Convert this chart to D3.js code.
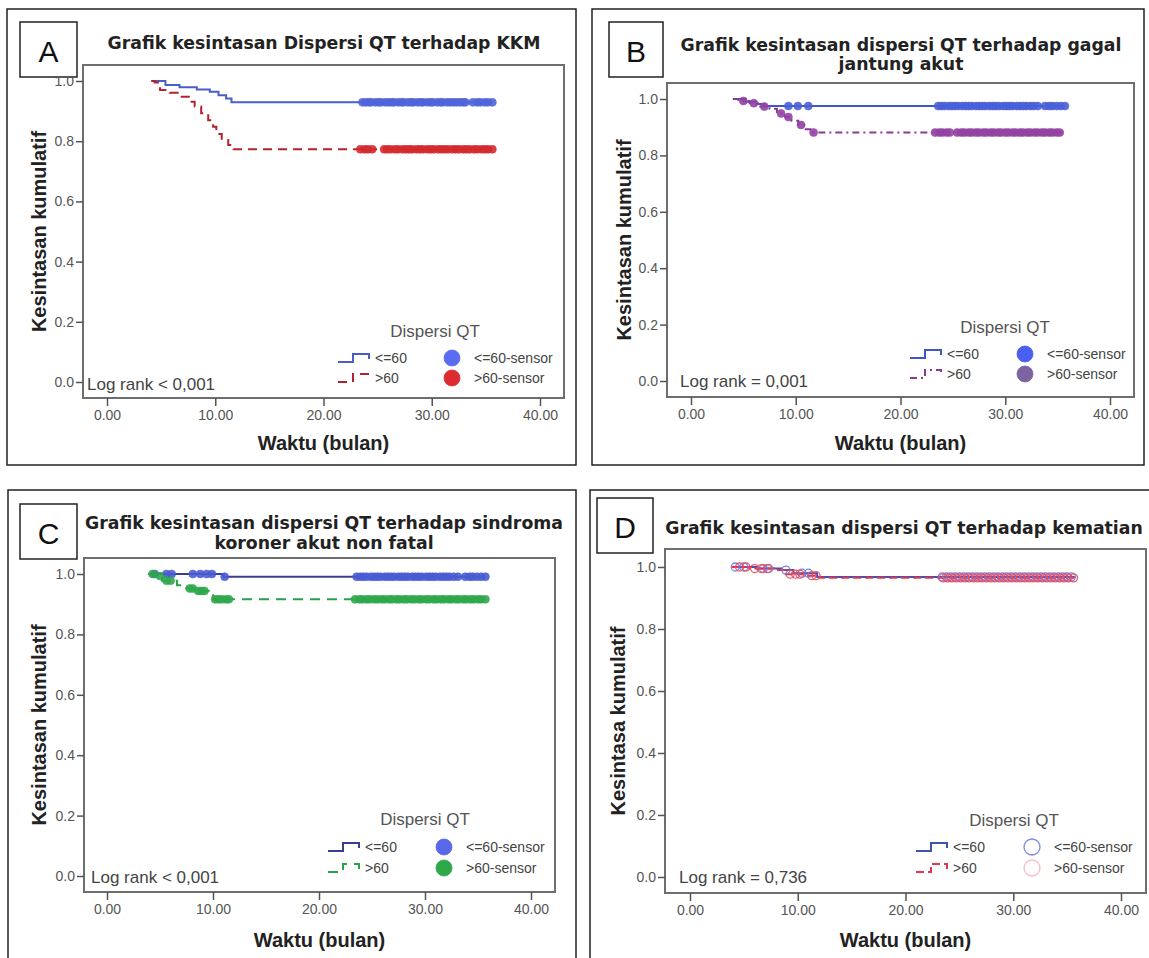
<!DOCTYPE html>
<html>
<head>
<meta charset="utf-8">
<script src="https://cdnjs.cloudflare.com/ajax/libs/d3/7.8.5/d3.min.js"></script>
<style>
    body { margin: 0; background: #fff; }
    svg { display: block; }
</style>
</head>
<body>
<svg id="chart" width="1149" height="958"></svg>
<script>
// shared axis ticks and legend texts
var xTicks = [0, 10, 20, 30, 40];
var yTicks = [0, 0.2, 0.4, 0.6, 0.8, 1.0];
var groupLabels = ["<=60", ">60"];
var censorLabels = ["<=60-sensor", ">60-sensor"];

// Panel A - KKM
var aLowTime = [4.1, 5.4, 6.7, 8.3, 9.5, 10.3, 11.0, 11.5, 35.6];
var aLowSurv = [1.0, 0.987, 0.979, 0.972, 0.964, 0.953, 0.942, 0.929, 0.929];
var aLowCens = [23.6, 23.9, 24.2, 24.4, 24.8, 25.1, 25.3, 25.7, 26.0, 26.3, 26.5, 26.9, 27.2, 27.4, 27.8, 28.1,
    28.3, 28.7, 29.0, 29.2, 29.6, 29.9, 30.1, 30.5, 30.8, 31.0, 31.4, 31.7, 32.0, 32.3, 32.6, 32.9, 33.1,
    33.8, 34.2, 34.5, 34.9, 35.2, 35.6];
var aHighTime = [4.1, 4.4, 4.9, 5.8, 6.7, 7.7, 8.1, 8.7, 9.35, 9.8, 10.1, 10.6, 11.2, 11.7, 35.6];
var aHighSurv = [1.0, 0.995, 0.970, 0.961, 0.948, 0.931, 0.915, 0.893, 0.870, 0.848, 0.824, 0.804, 0.787, 0.773, 0.773];
var aHighCens = [23.4, 23.8, 24.1, 24.5, 25.6, 25.9, 26.2, 26.6, 26.9, 27.3, 27.6, 27.9, 28.2, 28.6, 28.9, 29.2,
    29.6, 29.9, 30.2, 30.6, 30.9, 31.2, 31.5, 31.9, 32.2, 32.5, 32.9, 33.2, 33.5, 33.9, 34.2, 34.6, 34.9, 35.2, 35.6];

// Panel B - gagal jantung akut
var bLowTime = [4.0, 5.2, 6.2, 7.0, 35.7];
var bLowSurv = [1.0, 0.990, 0.982, 0.975, 0.975];
var bLowCens = [9.3, 10.2, 11.2, 23.6, 23.9, 24.2, 24.6, 24.9, 25.2, 25.5, 25.9, 26.2, 26.5, 26.8, 27.2, 27.5,
    27.8, 28.1, 28.5, 28.8, 29.1, 29.4, 29.8, 30.1, 30.4, 30.7, 31.1, 31.4, 31.7, 32.0, 32.4, 32.7, 33.1,
    33.8, 34.2, 34.5, 34.9, 35.3, 35.7];
var bHighTime = [4.0, 4.5, 5.6, 6.4, 7.5, 8.2, 9.0, 9.6, 10.25, 10.8, 11.4, 35.7];
var bHighSurv = [1.0, 0.993, 0.985, 0.973, 0.965, 0.949, 0.936, 0.923, 0.908, 0.893, 0.881, 0.881];
var bHighCens = [5.0, 6.0, 7.0, 8.6, 9.3, 10.5, 11.7, 23.3, 23.7, 24.0, 24.4, 24.7, 25.4, 25.8, 26.1, 26.5,
    26.8, 27.2, 27.5, 27.9, 28.2, 28.6, 28.9, 29.3, 29.6, 30.0, 30.3, 30.7, 31.0, 31.4, 31.7, 32.1, 32.4,
    32.8, 33.1, 33.5, 33.8, 34.2, 34.5, 34.9, 35.2];

// Panel C - sindroma koroner akut non fatal
var cLowTime = [3.9, 11.0, 35.7];
var cLowSurv = [1.0, 0.991, 0.991];
var cLowCens = [4.5, 5.6, 6.1, 8.1, 8.8, 9.4, 9.9, 11.1, 23.55, 23.9, 24.2, 24.5, 24.9, 25.2, 25.5, 25.8, 26.2,
    26.5, 26.8, 27.1, 27.5, 27.8, 28.1, 28.4, 28.8, 29.1, 29.4, 29.7, 30.1, 30.4, 30.7, 31.0, 31.4, 31.7,
    32.0, 32.3, 32.7, 33.1, 33.8, 34.2, 34.5, 34.9, 35.3, 35.7];
var cHighTime = [3.9, 4.8, 5.2, 6.6, 7.5, 8.4, 9.6, 10.0, 35.7];
var cHighSurv = [1.0, 0.993, 0.978, 0.963, 0.952, 0.944, 0.930, 0.916, 0.916];
var cHighCens = [4.3, 5.0, 5.6, 6.0, 7.8, 8.1, 8.6, 8.9, 9.2, 10.2, 10.5, 10.8, 11.2, 11.5, 23.4, 23.8, 24.1,
    24.5, 24.8, 25.2, 25.5, 25.9, 26.2, 26.6, 26.9, 27.3, 27.6, 28.0, 28.3, 28.7, 29.0, 29.4, 29.7, 30.1,
    30.4, 30.8, 31.1, 31.5, 31.8, 32.2, 32.5, 32.9, 33.2, 33.6, 33.9, 34.3, 34.6, 35.0, 35.3, 35.7];

// Panel D - kematian
var dLowTime = [3.9, 6.2, 8.5, 9.6, 11.8, 35.7];
var dLowSurv = [1.0, 0.995, 0.990, 0.980, 0.968, 0.968];
var dLowCens = [4.2, 5.0, 6.8, 7.3, 8.9, 10.4, 11.0, 23.4, 23.8, 24.2, 24.6, 25.0, 25.4, 25.8, 26.2, 26.6,
    27.0, 27.4, 27.8, 28.2, 28.6, 29.0, 29.4, 29.8, 30.2, 30.6, 31.0, 31.4, 31.8, 32.2, 32.6, 33.0, 33.4,
    33.8, 34.2, 34.6, 35.0, 35.4];
var dHighTime = [3.9, 5.5, 7.8, 8.8, 10.8, 12.0, 35.7];
var dHighSurv = [1.0, 0.995, 0.990, 0.977, 0.972, 0.965, 0.965];
var dHighCens = [4.6, 5.2, 6.0, 6.6, 7.2, 9.3, 9.8, 10.2, 11.3, 11.7, 23.5, 23.9, 24.3, 24.7, 25.1, 25.5,
    25.9, 26.3, 26.7, 27.1, 27.5, 27.9, 28.3, 28.7, 29.1, 29.5, 29.9, 30.3, 30.7, 31.1, 31.5, 31.9, 32.3,
    32.7, 33.1, 33.5, 33.9, 34.3, 34.7, 35.1, 35.6];


SurvivalChart = function (_svg, _cfg, _series) {
    this.svg = _svg;
    this.cfg = _cfg;
    this.series = _series;
    this.initVis();
}

SurvivalChart.prototype.initVis = function () {
    var vis = this;
    var c = vis.cfg;

    vis.g = vis.svg.append("g");

    // panel border
    vis.g.append("rect")
        .attr("x", c.border[0]).attr("y", c.border[1])
        .attr("width", c.border[2] - c.border[0]).attr("height", c.border[3] - c.border[1])
        .attr("fill", "none").attr("stroke", "#222").attr("stroke-width", 1.5);

    // letter box
    vis.g.append("rect")
        .attr("x", c.box[0]).attr("y", c.box[1])
        .attr("width", c.box[2] - c.box[0]).attr("height", c.box[3] - c.box[1])
        .attr("fill", "#fff").attr("stroke", "#222").attr("stroke-width", 1.5);
    vis.g.append("text")
        .attr("x", (c.box[0] + c.box[2]) / 2).attr("y", (c.box[1] + c.box[3]) / 2 + 2)
        .attr("text-anchor", "middle").attr("dominant-baseline", "central")
        .attr("font-family", "Liberation Sans, Arial, sans-serif").attr("font-size", 30)
        .attr("fill", "#111")
        .text(c.letter);

    // title (1 or 2 lines)
    c.title.forEach(function (line, i) {
        vis.g.append("text")
            .attr("x", c.titleX).attr("y", c.titleY[i])
            .attr("text-anchor", "middle").attr("dominant-baseline", "central")
            .attr("font-family", "DejaVu Sans, Verdana, sans-serif").attr("font-weight", "bold")
            .attr("font-size", 17.3).attr("fill", "#222")
            .text(line);
    });

    vis.xScale = d3.scaleLinear().domain([0, 40]).range(c.xRange);
    vis.yScale = d3.scaleLinear().domain([0, 1]).range(c.yRange);

    vis.updateVis();
}

SurvivalChart.prototype.survAt = function (s, t) {
    var v = s.surv[0];
    for (var i = 0; i < s.time.length; i++) {
        if (s.time[i] <= t) v = s.surv[i];
    }
    return v;
}

SurvivalChart.prototype.updateVis = function () {
    var vis = this;
    var c = vis.cfg;
    var f = c.frame;

    // plot frame
    vis.g.append("rect")
        .attr("x", f[0]).attr("y", f[1])
        .attr("width", f[2] - f[0]).attr("height", f[3] - f[1])
        .attr("fill", "#fff").attr("stroke", "#6e6e6e").attr("stroke-width", 2);

    // axes
    var xAxis = d3.axisBottom(vis.xScale)
        .tickValues(xTicks).tickSize(8).tickSizeOuter(0).tickPadding(4)
        .tickFormat(d3.format(".2f"));
    var gx = vis.g.append("g")
        .attr("class", "axis x-axis")
        .attr("transform", "translate(0," + f[3] + ")")
        .call(xAxis);

    var yAxis = d3.axisLeft(vis.yScale)
        .tickValues(yTicks).tickSize(7).tickSizeOuter(0).tickPadding(2)
        .tickFormat(d3.format(".1f"));
    var gy = vis.g.append("g")
        .attr("class", "axis y-axis")
        .attr("transform", "translate(" + f[0] + ",0)")
        .call(yAxis);

    [gx, gy].forEach(function (ax) {
        ax.select(".domain").remove();
        ax.selectAll("line").attr("stroke", "#555").attr("stroke-width", 1.5);
        ax.selectAll("text")
            .attr("font-family", "Liberation Sans, Arial, sans-serif")
            .attr("font-size", 14).attr("fill", "#555");
    });

    // axis titles
    vis.g.append("text")
        .attr("x", (f[0] + f[2]) / 2 + c.xLabelDx).attr("y", c.xLabelY)
        .attr("text-anchor", "middle").attr("dominant-baseline", "central")
        .attr("font-family", "Liberation Sans, Arial, sans-serif").attr("font-weight", "bold")
        .attr("font-size", 20).attr("fill", "#222")
        .text("Waktu (bulan)");

    vis.g.append("text")
        .attr("transform", "translate(" + c.yLabelX + "," + ((f[1] + f[3]) / 2) + ") rotate(-90)")
        .attr("text-anchor", "middle").attr("dominant-baseline", "central")
        .attr("font-family", "Liberation Sans, Arial, sans-serif").attr("font-weight", "bold")
        .attr("font-size", 20).attr("fill", "#222")
        .text(c.yLabel);

    // KM step lines
    var line = d3.line()
        .x(function (d) { return vis.xScale(d[0]); })
        .y(function (d) { return vis.yScale(d[1]); })
        .curve(d3.curveStepAfter);

    vis.series.forEach(function (s) {
        var pts = s.time.map(function (t, i) { return [t, s.surv[i]]; });
        vis.g.append("path")
            .datum(pts)
            .attr("d", line)
            .attr("fill", "none")
            .attr("stroke", s.line)
            .attr("stroke-width", 2)
            .attr("stroke-dasharray", s.dash);
    });

    // censored marks
    vis.series.forEach(function (s) {
        vis.g.append("g").selectAll("circle")
            .data(s.cens)
            .enter()
            .append("circle")
            .attr("cx", function (d) { return vis.xScale(d); })
            .attr("cy", function (d) { return vis.yScale(vis.survAt(s, d)); })
            .attr("r", 4)
            .attr("fill", c.hollow ? "none" : s.mark)
            .attr("stroke", s.mark)
            .attr("stroke-width", c.hollow ? 1.3 : 0.6)
            .attr("opacity", 0.9);
    });

    // log rank
    vis.g.append("text")
        .attr("x", c.logX).attr("y", c.logY)
        .attr("dominant-baseline", "central")
        .attr("font-family", "Liberation Sans, Arial, sans-serif")
        .attr("font-size", 17).attr("fill", "#444")
        .text(c.logText);

    // legend
    var L = c.legend;
    vis.g.append("text")
        .attr("x", L.titleX).attr("y", L.titleY)
        .attr("text-anchor", "middle").attr("dominant-baseline", "central")
        .attr("font-family", "Liberation Sans, Arial, sans-serif")
        .attr("font-size", 17).attr("fill", "#555")
        .text("Dispersi QT");

    vis.series.forEach(function (s, i) {
        var y = L.rows[i];
        var x0 = L.iconX;
        vis.g.append("path")
            .attr("d", "M" + x0 + "," + (y + 4) + "H" + (x0 + 15) + "V" + (y - 4) + "H" + (x0 + 31) + "V" + (y + 1))
            .attr("fill", "none").attr("stroke", s.line).attr("stroke-width", 2)
            .attr("stroke-dasharray", s.dash);
        vis.g.append("text")
            .attr("x", x0 + 37).attr("y", y)
            .attr("dominant-baseline", "central")
            .attr("font-family", "Liberation Sans, Arial, sans-serif")
            .attr("font-size", 14).attr("fill", "#444")
            .text(groupLabels[i]);
        vis.g.append("circle")
            .attr("cx", L.circleX).attr("cy", y)
            .attr("r", 8)
            .attr("fill", c.hollow ? "none" : s.legendMark)
            .attr("stroke", s.legendMark)
            .attr("stroke-width", c.hollow ? 1.3 : 0.8);
        vis.g.append("text")
            .attr("x", L.circleX + 22).attr("y", y)
            .attr("dominant-baseline", "central")
            .attr("font-family", "Liberation Sans, Arial, sans-serif")
            .attr("font-size", 14).attr("fill", "#444")
            .text(censorLabels[i]);
    });
}

var svg = d3.select("#chart");

new SurvivalChart(svg, {
    letter: "A", border: [7, 9, 576, 465], box: [20, 22, 77, 77],
    title: ["Grafik kesintasan Dispersi QT terhadap KKM"], titleX: 324, titleY: [43],
    frame: [83, 65, 564, 398], xRange: [107, 540], yRange: [382, 81],
    xLabelDx: 0, xLabelY: 443, yLabel: "Kesintasan kumulatif", yLabelX: 39,
    logText: "Log rank < 0,001", logX: 87, logY: 384,
    legend: { titleX: 435, titleY: 331, rows: [358, 378], iconX: 338, circleX: 452 },
    hollow: false
}, [
    { time: aLowTime, surv: aLowSurv, cens: aLowCens, line: "#4a5ec8", mark: "#5064dc", legendMark: "#5a6cf0", dash: null },
    { time: aHighTime, surv: aHighSurv, cens: aHighCens, line: "#b3222f", mark: "#d42a30", legendMark: "#dc2c30", dash: "9,6" }
]);

new SurvivalChart(svg, {
    letter: "B", border: [592, 9, 1144, 465], box: [609, 22, 663, 77],
    title: ["Grafik kesintasan dispersi QT terhadap gagal", "jantung akut"], titleX: 901, titleY: [45, 64],
    frame: [667, 83, 1134, 397], xRange: [691, 1110], yRange: [381, 99],
    xLabelDx: 0, xLabelY: 443, yLabel: "Kesintasan kumulatif", yLabelX: 624,
    logText: "Log rank = 0,001", logX: 680, logY: 381,
    legend: { titleX: 1005, titleY: 327, rows: [354, 374], iconX: 910, circleX: 1025 },
    hollow: false
}, [
    { time: bLowTime, surv: bLowSurv, cens: bLowCens, line: "#3f56c6", mark: "#4a60d8", legendMark: "#4a5ef0", dash: null },
    { time: bHighTime, surv: bHighSurv, cens: bHighCens, line: "#8a3a94", mark: "#9442a4", legendMark: "#7c64a0", dash: "7,4,2,4" }
]);

new SurvivalChart(svg, {
    letter: "C", border: [8, 490, 576, 975], box: [20, 504, 77, 559],
    title: ["Grafik kesintasan dispersi QT terhadap sindroma", "koroner akut non fatal"], titleX: 324, titleY: [523, 543],
    frame: [84, 558, 555, 892], xRange: [107, 531], yRange: [876, 574],
    xLabelDx: 0, xLabelY: 940, yLabel: "Kesintasan kumulatif", yLabelX: 39,
    logText: "Log rank < 0,001", logX: 91, logY: 877,
    legend: { titleX: 425, titleY: 819, rows: [847, 868], iconX: 328, circleX: 444 },
    hollow: false
}, [
    { time: cLowTime, surv: cLowSurv, cens: cLowCens, line: "#3a3e90", mark: "#4a5cd4", legendMark: "#5868e8", dash: null },
    { time: cHighTime, surv: cHighSurv, cens: cHighCens, line: "#2aa048", mark: "#2fa84c", legendMark: "#2ea84a", dash: "10,7" }
]);

new SurvivalChart(svg, {
    letter: "D", border: [590, 490, 1160, 975], box: [597, 498, 653, 553],
    title: ["Grafik kesintasan dispersi QT terhadap kematian"], titleX: 904, titleY: [528],
    frame: [665, 549, 1146, 893], xRange: [690, 1121], yRange: [877, 567],
    xLabelDx: 0, xLabelY: 940, yLabel: "Kesintasa kumulatif", yLabelX: 618,
    logText: "Log rank = 0,736", logX: 679, logY: 877,
    legend: { titleX: 1014, titleY: 820, rows: [847, 868], iconX: 916, circleX: 1032 },
    hollow: true
}, [
    { time: dLowTime, surv: dLowSurv, cens: dLowCens, line: "#3a55b4", mark: "#6676e0", legendMark: "#7a88e4", dash: null },
    { time: dHighTime, surv: dHighSurv, cens: dHighCens, line: "#e3364c", mark: "#ea4a5c", legendMark: "#f2bcc4", dash: "8,4" }
]);
</script>
</body>
</html>
